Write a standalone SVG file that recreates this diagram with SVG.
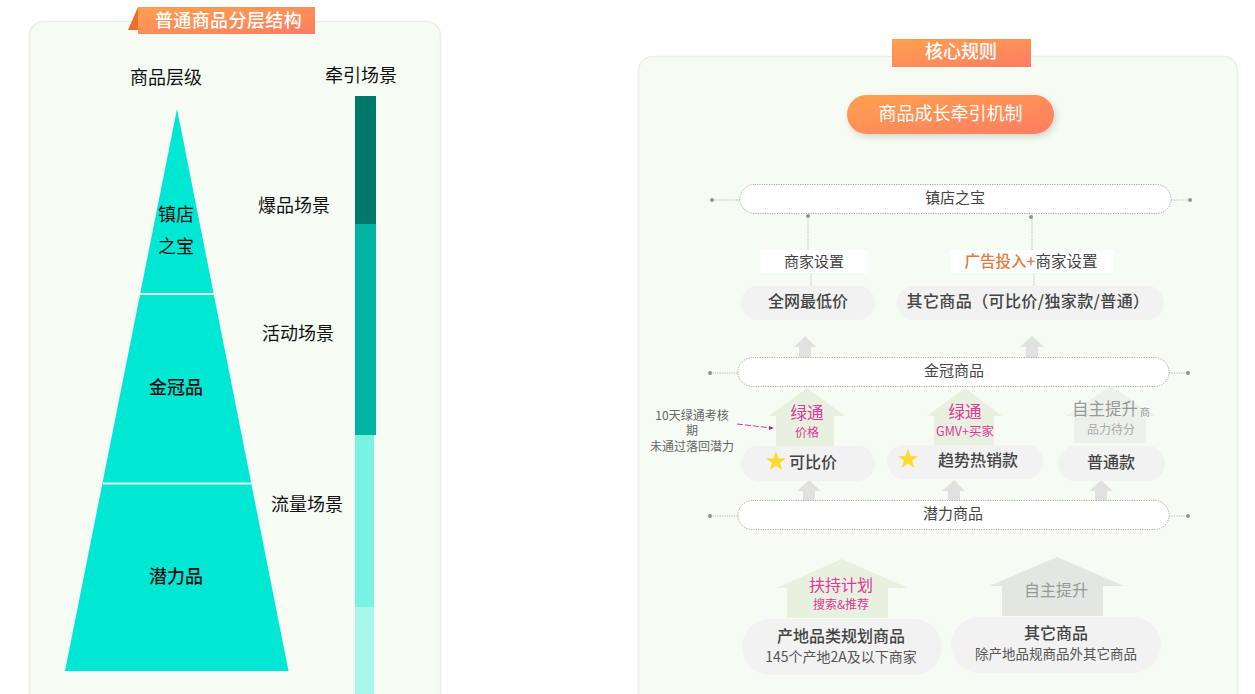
<svg xmlns="http://www.w3.org/2000/svg" width="1255" height="694" viewBox="0 0 1255 694">
<defs>
<linearGradient id="og" x1="0" y1="0" x2="1" y2="1"><stop offset="0" stop-color="#ffa14e"/><stop offset="1" stop-color="#ff7d62"/></linearGradient>
<filter id="sh" x="-10%" y="-30%" width="120%" height="170%"><feDropShadow dx="2" dy="3" stdDeviation="3" flood-color="#000" flood-opacity="0.15"/></filter>
</defs>
<style>
text{font-family:"Noto Sans CJK SC","Liberation Sans",sans-serif;text-anchor:middle}
.panel{fill:#f6fcf4;stroke:#e9efe7;stroke-width:1.5}
.pill{fill:#fff;stroke:#a8a8a8;stroke-width:1;stroke-dasharray:1.2 1.2}
.grey{fill:#f2f2f2}
.lnk{fill:none;stroke:#b4b8b4;stroke-width:1;stroke-dasharray:1.2 1.2}
.dot{fill:#8a9a8a}
.arr{fill:#e1e1e1}
.hg{fill:#e8f1e0}
.hn{fill:#e4e6e2}
.k{fill:#111;font-size:18px}
.d{fill:#444;font-size:15px}
.b{fill:#444;font-size:16px;font-weight:500}
.p{fill:#e0389a}
</style>
<rect width="1255" height="694" fill="#fff"/>
<g id="left-panel">
<rect class="panel" x="29.500" y="21.500" width="411" height="700" rx="14"/>
<polygon points="138,7 128,30 138,30" fill="#ee6f2d"/>
<rect x="138" y="7" width="177" height="27" fill="url(#og)"/>
<text x="228.500" y="27" font-size="18" font-weight="500" letter-spacing="0.400" fill="#fff">普通商品分层结构</text>
<text x="166" y="84" class="k">商品层级</text>
<text x="361" y="82" class="k">牵引场景</text>
</g>
<g id="pyramid">
<polygon points="177,109 288.500,671 65,671" fill="#00e8d4"/>
<path d="M139 294H214M103 483.500H251" stroke="#e8f8f0" stroke-width="2"/>
<text x="176" y="221" class="k">镇店</text>
<text x="176" y="253" class="k">之宝</text>
<text x="176" y="394" class="k" font-weight="500">金冠品</text>
<text x="176" y="583" class="k" font-weight="500">潜力品</text>
</g>
<g id="scene-bar">
<rect x="355" y="96" width="21" height="128" fill="#00786a"/>
<rect x="355" y="224" width="21" height="211" fill="#00b2a2"/>
<rect x="355" y="435" width="19" height="172" fill="#78f3e3"/>
<rect x="355" y="607" width="19" height="87" fill="#a8f6ec"/>
<text x="294" y="212" class="k">爆品场景</text>
<text x="298" y="340" class="k">活动场景</text>
<text x="307" y="511" class="k">流量场景</text>
</g>
<g id="right-panel">
<rect class="panel" x="638.500" y="56.500" width="599" height="670" rx="14"/>
<rect x="892" y="39" width="139" height="28" fill="url(#og)"/>
<text x="961" y="58" font-size="18" font-weight="500" fill="#fff">核心规则</text>
<rect x="847" y="95" width="207" height="39" rx="19.500" fill="url(#og)" filter="url(#sh)"/>
<text x="950.500" y="120" font-size="18" fill="#fff">商品成长牵引机制</text>
</g>
<g id="connectors">
<path class="lnk" d="M712 200H740M1171 200H1191M710 373H738M1169 373H1189M710 516H738M1169 516H1188M808 215V250M811 272V287M1032 215V250M1034 272V287"/>
<path d="M737 424L772 428" stroke="#e0389a" stroke-width="1" stroke-dasharray="6 2" fill="none"/>
<polygon points="774,428 769,426 769,430" fill="#c02080"/>
<circle class="dot" cx="712" cy="200" r="2"/><circle class="dot" cx="1190" cy="200" r="2"/>
<circle class="dot" cx="710" cy="373" r="2"/><circle class="dot" cx="1188" cy="373" r="2"/>
<circle class="dot" cx="710" cy="516" r="2"/><circle class="dot" cx="1188" cy="516" r="2"/>
<circle class="dot" cx="808" cy="216" r="2"/><circle class="dot" cx="1031" cy="217" r="2"/>
<polygon class="arr" points="805,336 816,347 811,347 811,358 799,358 799,347 794,347"/>
<polygon class="arr" points="1032,336 1044,347 1038,347 1038,358 1026,358 1026,347 1020,347"/>
<polygon class="arr" points="809,480 821,491 815,491 815,501 803,501 803,491 797,491"/>
<polygon class="arr" points="954,480 965,491 960,491 960,501 948,501 948,491 942,491"/>
<polygon class="arr" points="1101,480 1113,491 1107,491 1107,501 1095,501 1095,491 1089,491"/>
</g>
<g id="n-zhendian"><rect class="pill" x="740" y="184.500" width="431" height="29" rx="14.500"/><text x="955" y="203" class="d">镇店之宝</text></g>
<g id="n-shezhi1"><rect x="760" y="250" width="107" height="23" fill="#fff"/><text x="814" y="267" class="d">商家设置</text></g>
<g id="n-shezhi2"><rect x="950" y="250" width="164" height="23" fill="#fff"/><text x="1031" y="267" class="d" style="font-size:15.500px"><tspan fill="#e07a3a" font-weight="500">广告投入+</tspan>商家设置</text></g>
<g id="n-lowest"><rect class="grey" x="741" y="286" width="134" height="34" rx="17"/><text x="808" y="307" class="b">全网最低价</text></g>
<g id="n-other"><rect class="grey" x="897" y="286" width="267" height="34" rx="17"/><text x="1028" y="307" class="b" letter-spacing="0.400">其它商品（可比价/独家款/普通）</text></g>
<g id="n-jinguan"><rect class="pill" x="738" y="357.500" width="431" height="29" rx="14.500"/><text x="954" y="376" class="d">金冠商品</text></g>
<g id="n-lv1">
<polygon class="hg" points="807,388 845,416 834,416 834,446 776,446 776,416 769,416"/>
<text x="807" y="419" font-size="16.500" class="p">绿通</text><text x="807" y="437" font-size="12" class="p">价格</text>
</g>
<g id="n-lv2">
<polygon class="hg" points="965,388 1002,416 994,416 994,446 934,446 934,416 927,416"/>
<text x="965" y="418" font-size="16.500" class="p">绿通</text><text x="965" y="436" font-size="12.500" class="p">GMV+买家</text>
</g>
<g id="n-zz1">
<polygon points="1111,386 1155,416 1146,416 1146,443 1074,443 1074,416 1066,416" fill="#eef0ec"/>
<text x="1105" y="415" font-size="16.500" fill="#999">自主提升</text><text x="1145" y="416" font-size="10" fill="#999">商</text>
<text x="1111" y="434" font-size="12" fill="#aaa">品力待分</text>
</g>
<g id="n-note"><text x="692" y="420" font-size="12" fill="#666">10天绿通考核</text><text x="692" y="435" font-size="12" fill="#666">期</text><text x="692" y="451" font-size="12" fill="#666">未通过落回潜力</text></g>
<g id="n-kebi"><rect class="grey" x="741" y="446" width="134" height="35" rx="17.500"/>
<polygon points="776,451 778.600,458.200 786,458.200 780,462.800 782.300,470 776,465.600 769.700,470 772,462.800 766,458.200 773.400,458.200" fill="#fbd92f"/>
<text x="813" y="468" class="b">可比价</text></g>
<g id="n-qushi"><rect class="grey" x="887" y="445" width="156" height="34" rx="17"/>
<polygon points="908,449 910.600,456.200 918,456.200 912,460.800 914.300,468 908,463.600 901.700,468 904,460.800 898,456.200 905.400,456.200" fill="#fbd92f"/>
<text x="978" y="466" class="b">趋势热销款</text></g>
<g id="n-putong"><rect class="grey" x="1058" y="446" width="107" height="35" rx="17.500"/><text x="1111" y="468" class="b">普通款</text></g>
<g id="n-qianli"><rect class="pill" x="738" y="500.500" width="431" height="29" rx="14.500"/><text x="953" y="519" class="d">潜力商品</text></g>
<g id="n-fuchi">
<polygon class="hg" points="842,559 908,588 888,588 888,618 787,618 787,588 776,588"/>
<text x="841" y="591" font-size="16" class="p">扶持计划</text><text x="841" y="609" font-size="12" class="p">搜索&amp;推荐</text>
</g>
<g id="n-zizhu">
<polygon class="hn" points="1057,557 1124,586 1103,586 1103,616 1002,616 1002,586 989,586"/>
<text x="1056" y="596" font-size="16" fill="#999">自主提升</text>
</g>
<g id="n-chandi"><rect class="grey" x="742" y="619" width="200" height="56" rx="28"/><text x="841" y="642" class="b">产地品类规划商品</text><text x="841" y="662" font-size="14" fill="#555">145个产地2A及以下商家</text></g>
<g id="n-qita"><rect class="grey" x="951" y="617" width="210" height="56" rx="28"/><text x="1056" y="639" class="b">其它商品</text><text x="1056" y="659" font-size="13.500" fill="#555">除产地品规商品外其它商品</text></g>
</svg>
